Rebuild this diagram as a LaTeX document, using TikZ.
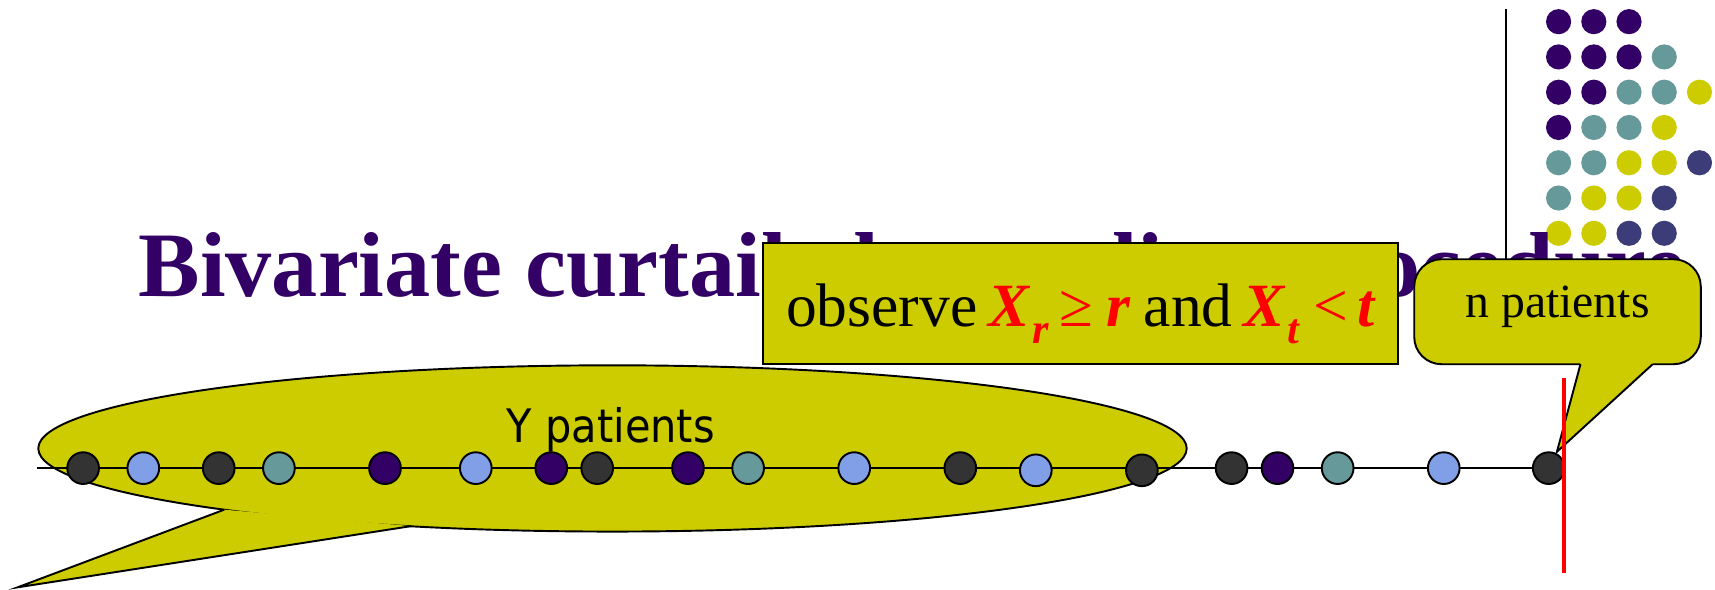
\documentclass[tikz,border=0pt]{standalone}
\usepackage{fontspec}
\setmainfont{Liberation Serif}
\newfontfamily\balloonfont{DejaVu Sans}
\usepackage{xcolor}
\usepackage{graphicx}
\usetikzlibrary{shapes.geometric}

\definecolor{titlepurple}{HTML}{330066}
\definecolor{balloonyellow}{HTML}{CCCC00}
\definecolor{dotdark}{HTML}{333333}
\definecolor{dotblue}{HTML}{809FE6}
\definecolor{dotteal}{HTML}{669999}
\definecolor{dotpurple}{HTML}{330066}
\definecolor{dotnavy}{HTML}{3C3C78}

% red bold italic parts of the condition
\newcommand{\condv}[1]{\textcolor{red}{\bfseries\itshape #1}}
\newcommand{\condx}[2]{\textcolor{red}{\bfseries\itshape #1\hspace{0.3mm}\raisebox{-1.5mm}{\fontsize{11pt}{11pt}\selectfont #2}}}

\tikzset{
  griddot/.style={circle, inner sep=0pt, minimum size=2.3mm},
  linedot/.style={circle, draw=black, line width=0.5pt, inner sep=0pt, minimum size=2.9mm},
  balloon/.style={fill=balloonyellow, draw=black, line width=0.5pt, inner sep=0pt},
}

\begin{document}
\begin{tikzpicture}[x=0.1mm, y=-0.1mm]
                    \useasboundingbox (0,0) rectangle (1568,539);
                    % dot pattern top right
                    \foreach \row/\cols in {1/{dotpurple,dotpurple,dotpurple},
                                            2/{dotpurple,dotpurple,dotpurple,dotteal},
                                            3/{dotpurple,dotpurple,dotteal,dotteal,balloonyellow},
                                            4/{dotpurple,dotteal,dotteal,balloonyellow},
                                            5/{dotteal,dotteal,balloonyellow,balloonyellow,dotnavy},
                                            6/{dotteal,balloonyellow,balloonyellow,dotnavy},
                                            7/{balloonyellow,balloonyellow,dotnavy,dotnavy}}
                        \foreach \c [count=\i] in \cols
                            \node[griddot, fill=\c] (g\row\i) at ({1425+(\i-1)*32.2}, {19.8+(\row-1)*32.25}) {};
                    \coordinate (vtop) at (1377,8);
                    \coordinate (vbot) at (1377,240);
                    \draw[line width=0.4pt] (vtop) -- (vbot);

                    % title
                    \node[anchor=base west, inner sep=0pt, text=titlepurple, font=\fontsize{24pt}{28pt}\selectfont\bfseries] (title) at (126,271) {Bivariate curtailed sampling procedure};

                    % condition box
                    \node[balloon, rectangle, minimum width=58mm, minimum height=11.1mm] (obsbox) at (988,277.5) {};
                    \node[anchor=base west, inner sep=0pt, font=\fontsize{16pt}{19pt}\selectfont] (obstext) at (718,298.7)
                        {observe\hspace{1mm}\condx{X}{r}\hspace{1mm}\textcolor{red}{≥}\hspace{1.2mm}\condv{r}\hspace{1.2mm}and\hspace{1mm}\condx{X}{t}\hspace{1.3mm}\textcolor{red}{<}\hspace{0.8mm}\condv{t}};

                    % n patients callout
                    \node[balloon, rounded corners=2.5mm, minimum width=26.2mm, minimum height=9.6mm] (nbox) at (1424,285) {};
                    \coordinate (ntip) at (1423.5,413);
                    \fill[balloonyellow] (1445,331) -- (1445,333) -- (ntip) -- (1511,333) -- (1511,331) -- cycle;
                    \draw[line width=0.5pt] (1445,333) -- (ntip) -- (1511,333);
                    \node[anchor=base, inner sep=0pt, font=\fontsize{12.4pt}{15pt}\selectfont] (nlabel) at (1424,290) {n patients};

                    % Y patients callout
                    \node[balloon, ellipse, minimum width=105mm, minimum height=15.2mm] (ybox) at (560,410) {};
                    \coordinate (ytip) at (16,537);
                    \fill[balloonyellow] (205,466) -- (ytip) -- (376,481) -- cycle;
                    \draw[line width=0.5pt] (205,466) -- (ytip) -- (376,481);
                    \node[anchor=base, inner sep=0pt, font=\balloonfont\fontsize{12pt}{14pt}\selectfont] (ylabel) at (558.5,404.7) {\scalebox{0.9}[1]{Y patients}};

                    % patients on the time line
                    \coordinate (lstart) at (34,428);
                    \coordinate (lend) at (1416,428);
                    \draw[line width=0.4pt] (lstart) -- (lend);
                    \foreach \x/\y/\c [count=\n] in {76/428/dotdark, 131/428/dotblue, 200/428/dotdark, 255/428/dotteal,
                                                     352/428/dotpurple, 435/428/dotblue, 504/428/dotpurple, 546/428/dotdark,
                                                     629/428/dotpurple, 684/428/dotteal, 781/428/dotblue, 878/428/dotdark,
                                                     947/430/dotblue, 1044/430/dotdark, 1126/428/dotdark, 1168/428/dotpurple,
                                                     1223/428/dotteal, 1320/428/dotblue, 1416/428/dotdark}
                        \node[linedot, fill=\c] (d\n) at (\x,\y) {};

                    % stopping point
                    \coordinate (rtop) at (1430,346);
                    \coordinate (rbot) at (1430,524);
                    \draw[red, line width=1.1pt] (rtop) -- (rbot);
                \end{tikzpicture}
\end{document}
